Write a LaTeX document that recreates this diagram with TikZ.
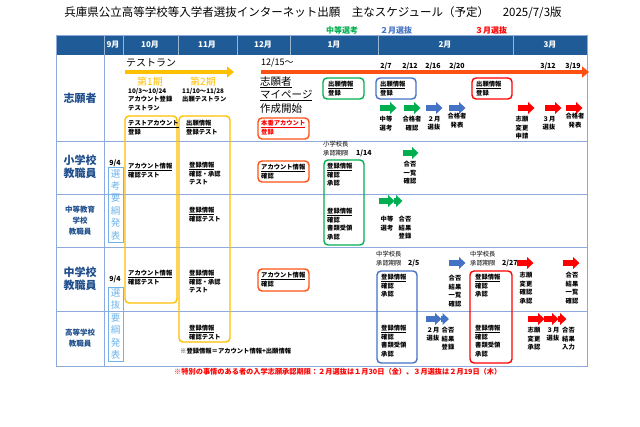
\documentclass[tikz,border=0pt]{standalone}
\usepackage{fontspec}
\setmainfont{Noto Sans CJK JP}
\usepackage{xcolor}
\usetikzlibrary{arrows.meta}

\definecolor{hdblue}{RGB}{31,91,150}
\definecolor{gridblue}{RGB}{142,169,219}
\definecolor{lblblue}{RGB}{31,78,140}
\definecolor{ylw}{RGB}{255,192,0}
\definecolor{ornred}{RGB}{255,80,20}
\definecolor{grn}{RGB}{0,176,80}
\definecolor{blu}{RGB}{68,114,196}
\definecolor{rd}{RGB}{255,0,0}
\definecolor{pale}{RGB}{110,180,235}

\tikzset{
  sm/.style={font=\fontsize{6.3}{8.6}\selectfont\bfseries, align=left, anchor=north west, inner sep=0pt},
  smc/.style={sm, align=center, anchor=north},
  lite/.style={font=\fontsize{6.3}{9}\selectfont, align=left, anchor=north west, inner sep=0pt},
  datelbl/.style={font=\fontsize{7}{8}\selectfont\bfseries, inner sep=0pt},
  sellbl/.style={font=\fontsize{8}{9}\selectfont\bfseries, inner sep=0pt},
  hd/.style={font=\fontsize{8}{9}\selectfont\bfseries, text=white},
  lbl/.style={font=\fontsize{11}{13}\selectfont\bfseries, text=lblblue, align=center},
  lblsm/.style={font=\fontsize{7.5}{11}\selectfont\bfseries, text=lblblue, align=center},
  gridln/.style={gridblue, line width=0.8pt},
  hdline/.style={white!55!hdblue, line width=0.6pt},
  rbox/.style={rounded corners=4pt, line width=1.4pt},
  bigarrow/.style={line width=4pt, -{Triangle[length=7pt,width=11pt]}},
  paletxt/.style={font=\fontsize{9.5}{12.4}\selectfont, text=pale, align=center},
  pics/barrow/.style={code={\fill (0,-2.8)--(#1,-2.8)--(#1,-6)--(#1+6.5,0)--(#1,6)--(#1,2.8)--(0,2.8)--cycle;}},
}

\begin{document}
\begin{tikzpicture}[x=1pt,y=-1pt]
\useasboundingbox (0,0) rectangle (640,426);
\fill[white] (0,0) rectangle (640,426);

% title
\node[font=\fontsize{11.5}{13}\selectfont] (title) at (313,13)
  {兵庫県公立高等学校等入学者選抜インターネット出願\hspace{1em}主なスケジュール（予定）\hspace{1.2em}2025/7/3版};
\node[sellbl, text=grn] (selA) at (342,30) {中等選考};
\node[sellbl, text=blu] (selB) at (396,30) {２月選抜};
\node[sellbl, text=rd] (selC) at (491,30) {３月選抜};

% table
\fill[hdblue] (56,35) rectangle (587,55);
\foreach \x in {104,123,178,237,290,378,513}
  \draw[hdline] (\x,35) -- (\x,55);
\draw[gridln] (56,35) rectangle (587,366);
\draw[gridln] (104,55) -- (104,366);
\foreach \y in {141,194,247,311}
  \draw[gridln] (56,\y) -- (587,\y);
\foreach \x/\m in {113/9月,150/10月,207/11月,263/12月,334/1月,445/2月,550/3月}
  \node[hd] (m\x) at (\x,45) {\m};

% row labels
\node[lbl] (appl) at (80,98) {志願者};
\node[lbl] (elem) at (80,167) {小学校\\教職員};
\node[lblsm] (sec) at (80,221) {中等教育\\学校\\教職員};
\node[lbl] (jhs) at (80,279) {中学校\\教職員};
\node[lblsm] (hs) at (80,338) {高等学校\\教職員};

% test run
\node[font=\fontsize{10}{12}\selectfont] (trun) at (151,63) {テストラン};
\draw[bigarrow, ylw] (125,72) -- (234,72);
\node[font=\fontsize{10}{12}\selectfont, text=ylw] (ph1) at (150,82) {第1期};
\node[font=\fontsize{10}{12}\selectfont, text=ylw] (ph2) at (203,82) {第2期};
\node[sm] (ph1d) at (128,88) {10/3～10/24\\アカウント登録\\テストラン};
\node[sm] (ph2d) at (182,88) {11/10～11/28\\出願テストラン};
\draw[rbox, ylw] (125,116) rectangle (177,303);
\draw[rbox, ylw] (179,116) rectangle (230,342);
\node[sm] (tacct) at (128,120) {\underline{テストアカウント}\\登録};
\node[sm] (treg) at (186,120) {\underline{出願情報}\\登録テスト};

% my page
\node[font=\fontsize{9}{10}\selectfont, anchor=west, inner sep=0pt] (start) at (261,63) {12/15～};
\draw[bigarrow, ornred] (261,72) -- (589,72);
\node[font=\fontsize{10.5}{13.5}\selectfont, align=left, anchor=north west, inner sep=0pt] (mypage) at (260,76)
  {\underline{志願者}\\\underline{マイページ}\\作成開始};
\draw[rbox, ornred] (258,118) rectangle (309,139);
\node[sm, text=rd] (acct) at (261,120) {\underline{本番アカウント}\\登録};

% applications
\draw[rbox, grn] (323,78) rectangle (364,99);
\node[sm] (regA) at (328,81) {\underline{出願情報}\\登録};
\draw[rbox, blu] (376,78) rectangle (416,99);
\node[sm] (regB) at (380,81) {\underline{出願情報}\\登録};
\draw[rbox, rd] (472,78) rectangle (512,99);
\node[sm] (regC) at (476,81) {\underline{出願情報}\\登録};
\foreach \x/\d in {386/{2/7},410/{2/12},433/{2/16},457/{2/20},548/{3/12},573/{3/19}}
  \node[datelbl] (d\x) at (\x,66) {\d};
\pic[fill=grn] at (380,108) {barrow=10};
\pic[fill=grn] at (404,108) {barrow=10};
\pic[fill=blu] at (426,108) {barrow=10};
\pic[fill=blu] at (449,108) {barrow=10};
\pic[fill=rd] at (518,108) {barrow=10};
\pic[fill=rd] at (545,108) {barrow=10};
\pic[fill=rd] at (566,108) {barrow=10};
\node[smc] (pA1) at (386,116) {中等\\選考};
\node[smc] (pA2) at (412,116) {合格者\\確認};
\node[smc] (pB1) at (434,116) {２月\\選抜};
\node[smc] (pB2) at (457,113) {合格者\\発表};
\node[smc] (pC0) at (522,116) {志願\\変更\\申請};
\node[smc] (pC1) at (549,116) {３月\\選抜};
\node[smc] (pC2) at (575,113) {合格者\\発表};

% elementary school staff
\node[datelbl] (n1) at (115,163) {9/4};
\draw[pale, line width=0.8pt] (108,167) rectangle (123,242);
\node[paletxt] (guide1) at (115.5,204.5) {選\\考\\要\\綱\\発\\表};
\node[sm] (e1) at (128,163) {\underline{アカウント情報}\\確認テスト};
\node[sm] (e2) at (189,162) {\underline{登録情報}\\確認・承認\\テスト};
\draw[rbox, ornred] (258,161) rectangle (309,182);
\node[sm] (e3) at (261,164) {\underline{アカウント情報}\\確認};
\node[lite] (e4) at (323,141) {小学校長\\承認期限};
\node[datelbl, anchor=west] (e5) at (356,153) {1/14};
\draw[rbox, grn] (324,160) rectangle (364,245);
\node[sm] (e6) at (327,163) {\underline{登録情報}\\確認\\承認};
\node[sm] (e7) at (327,208) {\underline{登録情報}\\確認\\書類受領\\承認};
\pic[fill=grn] at (403,153) {barrow=9};
\node[smc] (e8) at (410,161) {合否\\一覧\\確認};

% secondary school staff
\node[sm] (s1) at (189,207) {\underline{登録情報}\\確認テスト};
\pic[fill=grn] at (379,201) {barrow=9};
\pic[fill=grn] at (394,201) {barrow=2};
\node[smc] (s2) at (387,216) {中等\\選考};
\node[smc] (s3) at (405,216) {合否\\結果\\登録};

% junior high school staff
\node[datelbl] (n2) at (115,279) {9/4};
\draw[pale, line width=0.8pt] (108,287) rectangle (123,361);
\node[paletxt] (guide2) at (115.5,324) {選\\抜\\要\\綱\\発\\表};
\node[sm] (j1) at (128,270) {\underline{アカウント情報}\\確認テスト};
\node[sm] (j2) at (189,270) {\underline{登録情報}\\確認・承認\\テスト};
\draw[rbox, ornred] (258,269) rectangle (309,291);
\node[sm] (j3) at (261,272) {\underline{アカウント情報}\\確認};
\node[lite] (j4) at (376,251) {中学校長\\承認期限};
\node[datelbl, anchor=west] (j5) at (408,263) {2/5};
\draw[rbox, blu] (377,271) rectangle (417,363);
\node[sm] (j6) at (381,274) {\underline{登録情報}\\確認\\承認};
\node[sm] (j7) at (381,325) {\underline{登録情報}\\確認\\書類受領\\承認};
\pic[fill=blu] at (449,263) {barrow=10};
\node[smc] (j8) at (455,275) {合否\\結果\\一覧\\確認};
\node[lite] (j9) at (470,251) {中学校長\\承認期限};
\node[datelbl, anchor=west] (j10) at (502,263) {2/27};
\draw[rbox, rd] (470,271) rectangle (512,363);
\node[sm] (j11) at (475,274) {\underline{登録情報}\\確認\\承認};
\node[sm] (j12) at (475,325) {\underline{登録情報}\\確認\\書類受領\\承認};
\pic[fill=rd] at (517,263) {barrow=10};
\node[smc] (j13) at (526,272) {志願\\変更\\確認\\承認};
\pic[fill=rd] at (563,263) {barrow=10};
\node[smc] (j14) at (572,272) {合否\\結果\\一覧\\確認};

% high school staff
\node[sm] (h1) at (189,325) {\underline{登録情報}\\確認テスト};
\node[sm, anchor=west] (h2) at (180,351) {※登録情報＝アカウント情報+出願情報};
\pic[fill=blu] at (426,319) {barrow=9};
\pic[fill=blu] at (441,319) {barrow=1.5};
\node[smc] (h3) at (433,327) {２月\\選抜};
\node[smc] (h4) at (448,327) {合否\\結果\\登録};
\pic[fill=rd] at (528,319) {barrow=10};
\pic[fill=rd] at (544,319) {barrow=8};
\pic[fill=rd] at (558,319) {barrow=2};
\node[smc] (h5) at (534,327) {志願\\変更\\承認};
\node[smc] (h6) at (553,327) {３月\\選抜};
\node[sm, align=right, anchor=north east] (h7) at (575,327) {合否\\結果\\入力};

% note
\node[font=\fontsize{7.2}{8}\selectfont\bfseries, text=rd, anchor=west, inner sep=0pt] (note) at (174,372)
  {※特別の事情のある者の入学志願承認期限：２月選抜は１月30日（金）、３月選抜は２月19日（木）};
\end{tikzpicture}
\end{document}
